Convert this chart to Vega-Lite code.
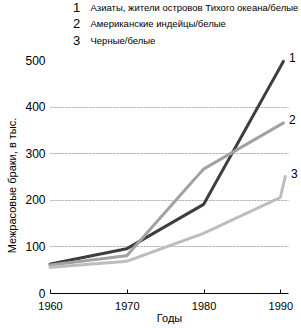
{
  "$schema": "https://vega.github.io/schema/vega-lite/v6.json",
  "width": 238,
  "height": 233,
  "autosize": {"type": "none"},
  "padding": {"left": 50, "top": 60, "right": 13, "bottom": 35},
  "background": "white",
  "config": {"view": {"stroke": null}, "font": "Liberation Sans"},
  "data": {
    "values": [
      {"series": "Азиаты, жители островов Тихого океана/белые", "n": "1", "year": 1960, "value": 62, "end": false},
      {"series": "Азиаты, жители островов Тихого океана/белые", "n": "1", "year": 1970, "value": 95, "end": false},
      {"series": "Азиаты, жители островов Тихого океана/белые", "n": "1", "year": 1980, "value": 190, "end": false},
      {"series": "Азиаты, жители островов Тихого океана/белые", "n": "1", "year": 1990.4, "value": 497, "end": true},
      {"series": "Американские индейцы/белые", "n": "2", "year": 1960, "value": 60, "end": false},
      {"series": "Американские индейцы/белые", "n": "2", "year": 1970, "value": 80, "end": false},
      {"series": "Американские индейцы/белые", "n": "2", "year": 1980, "value": 266, "end": false},
      {"series": "Американские индейцы/белые", "n": "2", "year": 1990.4, "value": 365, "end": true},
      {"series": "Черные/белые", "n": "3", "year": 1960, "value": 55, "end": false},
      {"series": "Черные/белые", "n": "3", "year": 1970, "value": 68, "end": false},
      {"series": "Черные/белые", "n": "3", "year": 1980, "value": 128, "end": false},
      {"series": "Черные/белые", "n": "3", "year": 1990, "value": 205, "end": false},
      {"series": "Черные/белые", "n": "3", "year": 1990.65, "value": 250, "end": true}
    ]
  },
  "layer": [
    {
      "mark": {"type": "line", "strokeCap": "round", "strokeJoin": "round"},
      "encoding": {
        "x": {
          "field": "year", "type": "quantitative",
          "scale": {"domain": [1960, 1991], "nice": false, "zero": false},
          "axis": {
            "values": [1960, 1970, 1980, 1990], "format": "d", "title": "Годы",
            "grid": false, "domainColor": "#000", "domainWidth": 1,
            "tickColor": "#000", "tickSize": -4, "labelPadding": 11,
            "labelFontSize": 11, "labelColor": "#000", "labelFlush": false,
            "titleFontSize": 11, "titleFontWeight": "normal", "titleColor": "#000",
            "titleY": 19
          }
        },
        "y": {
          "field": "value", "type": "quantitative",
          "scale": {"domain": [0, 500], "nice": false},
          "axis": {
            "values": [0, 100, 200, 300, 400, 500],
            "title": "Межрасовые браки, в тыс.",
            "domain": false, "ticks": false, "labelPadding": 5,
            "labelFontSize": 12, "labelColor": "#000",
            "titleFontSize": 11, "titleFontWeight": "normal", "titleColor": "#000", "titlePadding": 7,
            "titleY": 125,
            "gridColor": "#a8a8a8", "gridDash": [2, 1], "gridWidth": 1,
            "gridOpacity": {"condition": {"test": "datum.value > 0 && datum.value < 500", "value": 1}, "value": 0}
          }
        },
        "color": {
          "field": "series", "type": "nominal",
          "sort": ["Азиаты, жители островов Тихого океана/белые", "Американские индейцы/белые", "Черные/белые"],
          "scale": {"range": ["#3e3e3e", "#a2a2a2", "#bdbdbd"]},
          "legend": {
            "orient": "none", "legendX": 31, "legendY": -57, "title": null,
            "symbolOpacity": 0, "symbolSize": 1, "symbolStrokeWidth": 0, "labelOffset": 0, "labelLimit": 400,
            "labelFontSize": 9.5, "labelColor": "#000", "rowPadding": 5.5
          }
        },
        "opacity": {
          "field": "n", "type": "ordinal",
          "scale": {"range": [1, 1, 1]},
          "legend": {
            "orient": "none", "legendX": 10, "legendY": -59, "title": null,
            "symbolOpacity": 0, "symbolSize": 1, "symbolStrokeWidth": 0, "symbolStrokeColor": "transparent",
            "symbolFillColor": "transparent", "labelOffset": 0,
            "labelFontSize": 13, "labelColor": "#000", "rowPadding": 2.5
          }
        },
        "strokeDash": {
          "field": "series", "type": "nominal",
          "sort": ["Азиаты, жители островов Тихого океана/белые", "Американские индейцы/белые", "Черные/белые"],
          "scale": {"range": [[1, 0], [1, 0], [1.5, 1]]}, "legend": null
        },
        "strokeWidth": {
          "field": "series", "type": "nominal",
          "sort": ["Азиаты, жители островов Тихого океана/белые", "Американские индейцы/белые", "Черные/белые"],
          "scale": {"range": [3, 3, 2.5]}, "legend": null
        }
      }
    },
    {
      "transform": [{"filter": "datum.end"}],
      "mark": {"type": "text", "dx": 9, "dy": -3, "fontSize": 12, "color": "#000", "align": "center"},
      "encoding": {
        "x": {"field": "year", "type": "quantitative"},
        "y": {"field": "value", "type": "quantitative"},
        "text": {"field": "n"}
      }
    }
  ]
}
